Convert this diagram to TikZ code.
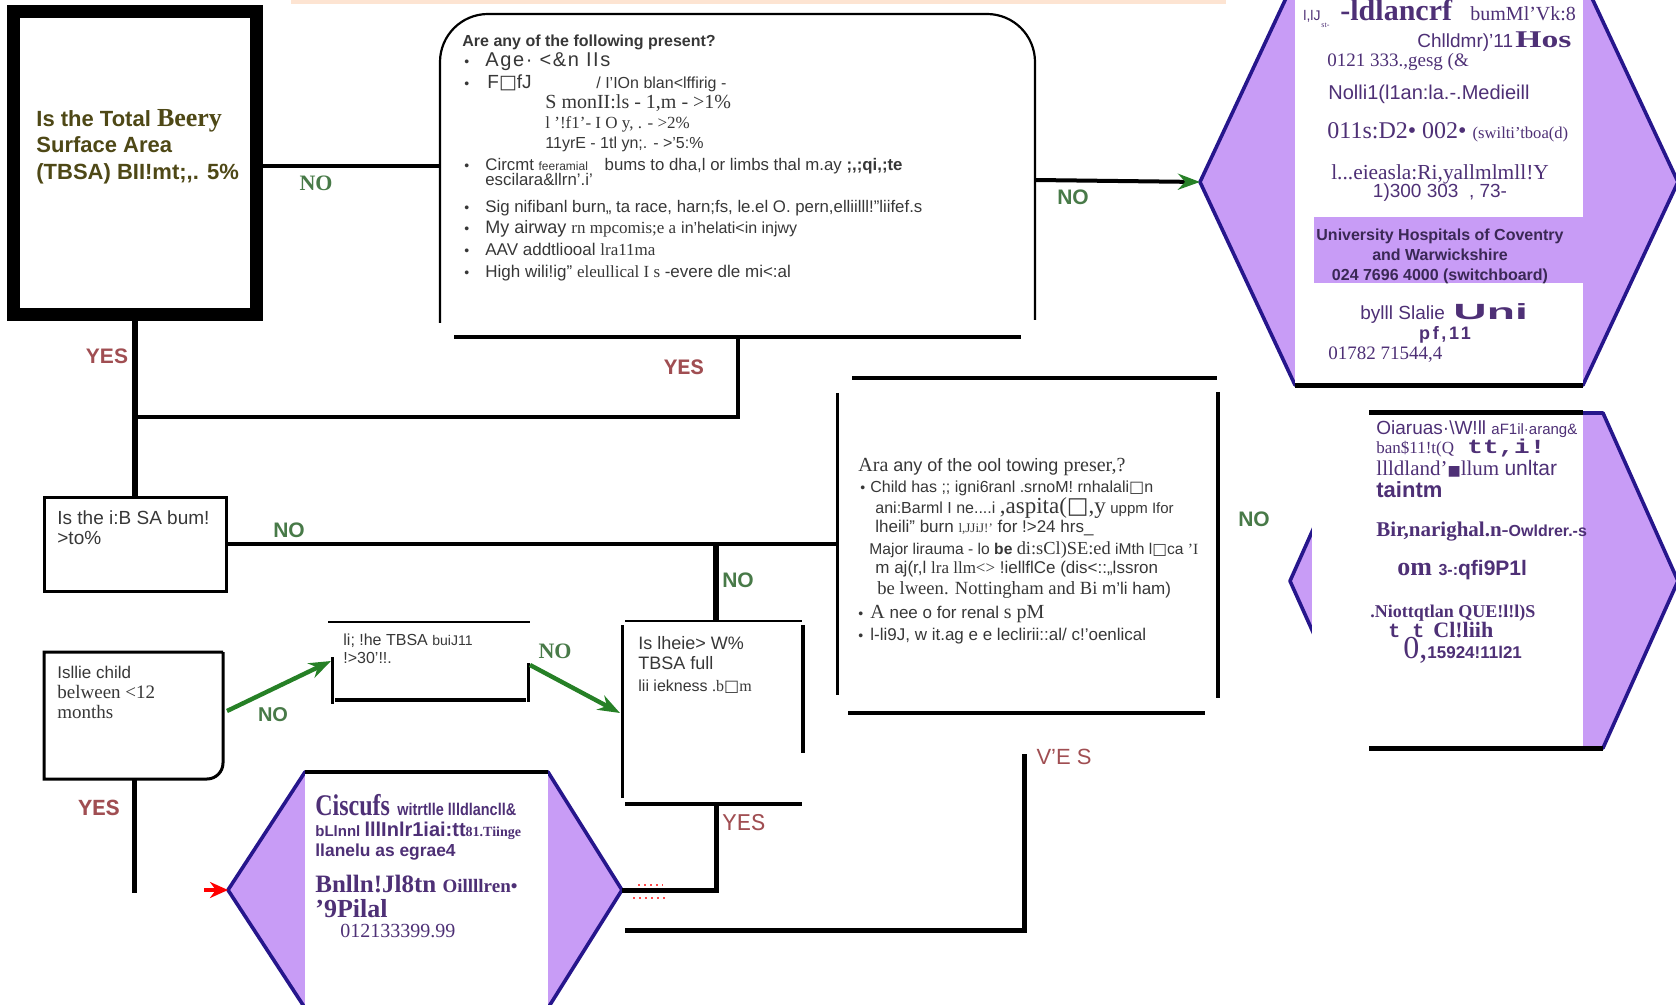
\documentclass[tikz,border=0pt]{standalone}
\usepackage{fontspec}
\setmainfont{Liberation Serif}
\setsansfont{Liberation Sans}
\setmonofont{Liberation Mono}
\newfontfamily\symfont{DejaVu Sans}
\usetikzlibrary{positioning,arrows.meta}

\definecolor{nogreen}{RGB}{72,122,72}
\definecolor{yesred}{RGB}{160,78,82}
\definecolor{hexfill}{RGB}{200,156,246}
\definecolor{hexedge}{RGB}{38,22,140}
\definecolor{purtext}{RGB}{78,48,118}
\definecolor{bandtext}{RGB}{58,40,85}
\definecolor{olivetext}{RGB}{78,72,22}
\definecolor{greytext}{RGB}{55,55,55}
\definecolor{arrgreen}{RGB}{38,128,38}
\definecolor{peach}{RGB}{253,228,210}

\newcommand{\fsz}[1]{\fontsize{#1}{#1}\selectfont}
\newcommand{\sq}{{\symfont\char"25A1}}

\begin{document}
\begin{tikzpicture}[
    x=0.5pt, y=-0.5pt,
    wire/.style={line width=2pt},
    thinwire/.style={line width=1pt},
    boxline/.style={line width=1.5pt},
    hexa/.style={fill=hexfill, draw=hexedge, line width=1.8pt, line join=round},
    garrow/.style={arrgreen, line width=2.2pt, -{Stealth[length=11pt,width=8pt]}},
    txt/.style={anchor=base west, inner sep=0pt, text=greytext},
    ptxt/.style={anchor=base west, inner sep=0pt, text=purtext},
    pmid/.style={anchor=base, inner sep=0pt, text=purtext},
    nolbl/.style={inner sep=0pt, text=nogreen, font=\sffamily\bfseries\fsz{10.5}},
    yeslbl/.style={inner sep=0pt, text=yesred},
]
\useasboundingbox (0,0) rectangle (1676,1005);
\clip (0,0) rectangle (1676,1005);

\fill[peach] (291,0) rectangle (1226,4);

% contact hexagons
\draw[hexa] (1200,182) coordinate (h1w) -- (1295,-21) -- (1583,-21) -- (1678,182)
  -- (1583,385) -- (1295,385) -- cycle;
\fill[white] (1295,-25) rectangle (1583,385);
\fill[hexfill] (1314,217) rectangle (1583,283);
\draw[line width=2.5pt] (1295,386) -- (1583,386);

\draw[hexa] (1290,581) -- (1365,413) -- (1603,413) -- (1678,581) -- (1603,748)
  -- (1365,748) -- cycle;
\fill[white] (1312,400) rectangle (1583,760);
\draw[line width=2.5pt] (1369,413) -- (1583,413);
\draw[line width=2.5pt] (1369,748) -- (1603,748);

\draw[hexa] (228,890) coordinate (h3w) -- (305,772) -- (548,772) -- (622,890) coordinate (h3e)
  -- (548,1008) -- (305,1008) -- cycle;
\fill[white] (305,772) rectangle (548,1012);
\draw[wire] (305,772) -- (548,772);

% question boxes
\draw[line width=6.5pt] (13,12) rectangle (256,315);
\draw[line width=1.1pt, rounded corners=24pt] (440,323) -- (440,14) -- (1035,14) -- (1035,320);
\draw[line width=1.6pt] (454,337) -- (1021,337);
\draw[boxline] (44,498) rectangle (226,591);
\draw[boxline] (223,652) -- (44,652) -- (44,779) {[rounded corners=8pt] -- (223,779) -- (223,652)};
\draw[thinwire] (328,622) -- (530,622);
\draw[boxline] (332,657) -- (332,704);
\draw[wire] (335,700) -- (526,700);
\draw[boxline] (528,663) -- (528,702);
\draw[thinwire] (625,621) -- (802,621);
\draw[boxline] (622,625) -- (622,798);
\draw[wire] (803,625) -- (803,753);
\draw[wire] (625,804) -- (802,804);
\draw[wire] (852,378) -- (1217,378);
\draw[boxline] (837,393) -- (837,695);
\draw[wire] (1218,392) -- (1218,698);
\draw[wire] (848,713) -- (1205,713);

% junctions
\coordinate (b1e) at (259,166);
\coordinate (b1s) at (135,318);
\coordinate (b2w) at (440,166);
\coordinate (b2e) at (1035,180);
\coordinate (b2s) at (738,337);
\coordinate (j1) at (738,417);
\coordinate (j0) at (135,417);
\coordinate (b3n) at (135,498);
\coordinate (b3e) at (226,544);
\coordinate (j2) at (716,544);
\coordinate (b7w) at (837,544);
\coordinate (b6n) at (716,621);
\coordinate (b4e) at (227,711);
\coordinate (b4s) at (134,779);
\coordinate (c1) at (134,893);
\coordinate (b5w) at (331,661);
\coordinate (b5e) at (530,665);
\coordinate (b6w) at (620,713);
\coordinate (b6s) at (716,804);
\coordinate (j3) at (716,890);
\coordinate (c2) at (625,930);
\coordinate (j4) at (1024,930);
\coordinate (c3) at (1024,754);
\coordinate (c4) at (204,890);

\draw[line width=3pt] (b1s) -- (b3n);
\draw[wire] (b1e) -- (b2w);
\draw[wire] (b2s) -- (j1) -- (j0);
\draw[wire] (b3e) -- (b7w);
\draw[line width=2.8pt] (j2) -- (b6n);
\draw[wire, -{Stealth[color=arrgreen,length=11pt,width=8pt]}] (b2e) -- (h1w);
\draw[garrow] (b4e) -- (b5w);
\draw[garrow] (b5e) -- (b6w);
\draw[line width=2.5pt] (b4s) -- (c1);
\draw[line width=2.5pt] (b6s) -- (j3) -- (h3e);
\draw[line width=2.5pt] (c2) -- (j4) -- (c3);
\draw[red, line width=2pt, -{Stealth[length=9pt,width=8pt]}] (c4) -- (h3w);
\draw[red!70, dotted, line width=1pt] (638,885) -- (663,885);
\draw[red!70, dotted, line width=1pt] (633,898) -- (668,898);

% labels
\node[nolbl, font=\rmfamily\bfseries\fsz{11}] (no1) at (316,183) {NO};
\node[yeslbl, font=\sffamily\bfseries\fsz{10.5}] (yes1) at (107,356) {YES};
\node[yeslbl, font=\ttfamily\bfseries\fsz{11}] (yes2) at (684,367) {YES};
\node[nolbl] (no2) at (1073,197) {NO};
\node[nolbl] (no3) at (289,530) {NO};
\node[nolbl] (no4) at (738,580) {NO};
\node[nolbl] (no5) at (1254,519) {NO};
\node[nolbl, font=\sffamily\bfseries\fsz{10}] (no6) at (273,715) {NO};
\node[nolbl, font=\rmfamily\bfseries\fsz{11}] (no7) at (555,651) {NO};
\node[yeslbl, font=\ttfamily\bfseries\fsz{11.5}] (yes3) at (99,808) {YES};
\node[yeslbl, font=\ttfamily\fsz{12}] (yes4) at (744,823) {YES};
\node[yeslbl, font=\sffamily\fsz{11}] (yes5) at (1064,757) {V'E S};

% box texts
\node[txt, text=olivetext, font=\sffamily\bfseries\fsz{11}] (q1a) at (36,127) {Is the Total {\rmfamily\fsz{13}Beery}};
\node[txt, text=olivetext, font=\sffamily\bfseries\fsz{11}] (q1b) at (36,153) {Surface Area};
\node[txt, text=olivetext, font=\sffamily\bfseries\fsz{11}] (q1c) at (36,180) {(TBSA) BII!mt;,. 5\%};

\node[txt, font=\sffamily\bfseries\fsz{8}] (q2) at (462,47) {Are any of the following present?};
\foreach \y in {67,89,171,213,234,256,278}
  \node[txt, font=\sffamily\fsz{7}] (bu\y) at (464,\y) {•};
\node[txt, font=\sffamily\fsz{10}\addfontfeature{LetterSpace=8}] (i1) at (485,67) {Age· <\&n IIs};
\node[txt, font=\sffamily\fsz{9.5}] (i2) at (487,89) {F\sq fJ};
\node[txt, font=\sffamily\fsz{8}] (i2b) at (596,89) {/ I'IOn blan<lffirig -};
\node[txt, font=\rmfamily\fsz{10}] (i2c) at (545,109) {S monII:ls - 1,m - >1\%};
\node[txt, font=\rmfamily\fsz{8.5}] (i2d) at (545,129) {l '!f1'- I O y, . - >2\%};
\node[txt, font=\sffamily\fsz{8}] (i2e) at (545,149) {11yrE - 1tl yn;. - >'5:\%};
\node[txt, font=\sffamily\fsz{8.4}] (i3) at (485,171) {Circmt {\fsz{6}feeramial}\quad bums to dha,l or limbs thal m.ay {\bfseries ;,;qi,;te}};
\node[txt, font=\sffamily\fsz{8.4}] (i3b) at (485,186) {escilara\&llrn'.i'};
\node[txt, font=\sffamily\fsz{8.4}] (i4) at (485,213) {Sig nifibanl burn,, ta race, harn;fs, le.el O. pern,elliilll!"liifef.s};
\node[txt, font=\sffamily\fsz{9}] (i5) at (485,234) {My airway {\rmfamily\fsz{8.5}rn mpcomis;e a} {\fsz{8}in'helati<in injwy}};
\node[txt, font=\sffamily\fsz{8.5}] (i6) at (485,256) {AAV addtliooal {\rmfamily lra11ma}};
\node[txt, font=\sffamily\fsz{8.5}] (i7) at (485,278) {High wili!ig" {\rmfamily eleullical I s} -evere dle mi<:al};

\node[txt, font=\sffamily\fsz{9}] (q7) at (858,472) {{\rmfamily\fsz{10}Ara} any of the ool towing {\rmfamily\fsz{10}preser,?}};
\node[txt, font=\sffamily\fsz{7}] (bu7a) at (860,493) {•};
\node[txt, font=\sffamily\fsz{7}] (bu7b) at (858,618) {•};
\node[txt, font=\sffamily\fsz{7}] (bu7c) at (858,640) {•};
\node[txt, font=\sffamily\fsz{8}] (k1) at (870,493) {Child has ;; igni6ranl .srnoM! rnhalali\sq n};
\node[txt, font=\sffamily\fsz{8}] (k1b) at (875,513) {ani:Barml I ne....i {\rmfamily\fsz{11.5},aspita(\sq,y} {\fsz{7.5}uppm Ifor}};
\node[txt, font=\sffamily\fsz{8.5}] (k1c) at (875,532) {lheili" burn {\rmfamily\fsz{6.5}l,JJiJ!'} for !>24 hrs\_};
\node[txt, font=\sffamily\fsz{7.8}] (k2) at (869,554) {Major lirauma - lo {\bfseries be} {\rmfamily\fsz{9.2}di:sCl)SE:ed} iMth l\sq ca {\rmfamily 'I}};
\node[txt, font=\sffamily\fsz{8.5}] (k2b) at (875,574) {m aj(r,l {\rmfamily lra llm<>} !iellflCe (dis<::,,lssron};
\node[txt, font=\rmfamily\fsz{9.3}] (k2c) at (877,594) {be lween. Nottingham and Bi {\sffamily\fsz{8.5}m'li ham)}};
\node[txt, font=\sffamily\fsz{8.5}] (k3) at (870,618) {{\rmfamily\fsz{10}A} nee o for renal {\rmfamily\fsz{10}s pM}};
\node[txt, font=\sffamily\fsz{8.5}] (k4) at (870,640) {l-li9J, w it.ag e e leclirii::al/ c!'oenlical};

\node[txt, font=\sffamily\fsz{9.5}] (q3a) at (57,524) {Is the i:B SA bum!};
\node[txt, font=\sffamily\fsz{9.5}] (q3b) at (57,545) {>to\%};
\node[txt, font=\sffamily\fsz{8.5}] (q4a) at (57,678) {Isllie child};
\node[txt, font=\rmfamily\fsz{9.5}] (q4b) at (57,698) {belween <12};
\node[txt, font=\rmfamily\fsz{9.5}] (q4c) at (57,718) {months};
\node[txt, font=\sffamily\fsz{8}] (q5a) at (343,645) {li; !he TBSA {\fsz{7}buiJ11}};
\node[txt, font=\sffamily\fsz{8}] (q5b) at (343,663) {!>30'!!.};
\node[txt, font=\sffamily\fsz{9}] (q6a) at (638,649) {Is lheie> W\%};
\node[txt, font=\sffamily\fsz{9}] (q6b) at (638,669) {TBSA full};
\node[txt, font=\sffamily\fsz{8}] (q6c) at (638,691) {lii iekness {\rmfamily .b\sq m}};

% hexagon texts
\node[ptxt, font=\sffamily\fsz{7}] (ra1) at (1303,21) {l,lJ};
\node[ptxt, font=\rmfamily\fsz{4}] (ra2) at (1321,28) {st-};
\node[ptxt, font=\rmfamily\bfseries\fsz{15}] (ra3) at (1340,21) {-ldlancrf};
\node[ptxt, font=\rmfamily\fsz{10}] (ra4) at (1470,21) {bumMl'Vk:8};
\node[ptxt, font=\sffamily\fsz{9.5}] (ra5) at (1417,48) {Chlldmr)'11};
\node[ptxt, font=\rmfamily\bfseries\fsz{12}\addfontfeature{FakeStretch=1.4}] (ra6) at (1515,48) {Hos};
\node[ptxt, font=\rmfamily\fsz{9.5}] (ra7) at (1327,67) {0121 333.,gesg (\&};
\node[ptxt, font=\sffamily\fsz{10}] (ra8) at (1328,100) {Nolli1(l1an:la.-.Medieill};
\node[ptxt, font=\rmfamily\fsz{12}] (ra9) at (1327,139) {011s:D2• 002• {\fsz{8.3}(swilti'tboa(d)}};
\node[pmid, font=\rmfamily\fsz{10.7}] (ra10) at (1440,180) {l...eieasla:Ri,yallmlmll!Y};
\node[pmid, font=\sffamily\fsz{9.5}] (ra11) at (1440,198) {1)300 303 \ , 73-};
\node[pmid, text=bandtext, font=\sffamily\bfseries\fsz{8}] (ra12) at (1440,241) {University Hospitals of Coventry};
\node[pmid, text=bandtext, font=\sffamily\bfseries\fsz{8}] (ra13) at (1440,261) {and Warwickshire};
\node[pmid, text=bandtext, font=\sffamily\bfseries\fsz{8}] (ra14) at (1440,281) {024 7696 4000 (switchboard)};
\node[ptxt, font=\sffamily\fsz{9.5}] (ra15) at (1360,320) {bylll Slalie};
\node[ptxt, font=\sffamily\bfseries\fsz{11}\addfontfeature{FakeStretch=2.1}] (ra16) at (1453,320) {Uni};
\node[pmid, font=\sffamily\bfseries\fsz{9}\addfontfeature{LetterSpace=15}] (ra17) at (1445,340) {pf,11};
\node[ptxt, font=\rmfamily\fsz{9.5}] (ra18) at (1328,360) {01782 71544,4};

\node[ptxt, font=\sffamily\fsz{9.5}] (rb1) at (1376,435) {Oiaruas·\textbackslash W!ll {\fsz{7.5}aF1il·arang\&}};
\node[ptxt, font=\rmfamily\fsz{8.5}] (rb2) at (1376,454) {ban\$11!t(Q};
\node[ptxt, font=\ttfamily\bfseries\fsz{10}\addfontfeature{FakeStretch=1.3}] (rb3) at (1467,454) {tt,i!};
\node[ptxt, font=\rmfamily\fsz{10.5}] (rb4) at (1376,476) {llldland'{\symfont\fsz{7}\char"25A0}llum {\sffamily unltar}};
\node[ptxt, font=\sffamily\bfseries\fsz{11}] (rb5) at (1376,497) {taintm};
\node[ptxt, font=\rmfamily\bfseries\fsz{10.5}] (rb6) at (1376,537) {Bir,narighal.n-{\sffamily\fsz{8}Owldrer.-s}};
\node[ptxt, font=\rmfamily\bfseries\fsz{13}] (rb7) at (1397,575) {om {\sffamily\fsz{8}3-:}{\sffamily\fsz{10.5}qfi9P1l}};
\node[ptxt, font=\rmfamily\bfseries\fsz{9}] (rb8) at (1370,617) {.Niottqtlan QUE!l!l)S};
\node[ptxt, font=\ttfamily\bfseries\fsz{10}] (rb9) at (1388,637) {t t};
\node[ptxt, font=\rmfamily\bfseries\fsz{11}] (rb10) at (1433,637) {Cl!liih};
\node[ptxt, font=\rmfamily\fsz{16}] (rb11) at (1403,658) {0,};
\node[ptxt, font=\sffamily\bfseries\fsz{8.5}] (rb12) at (1427,658) {15924!11l21};

\node[ptxt, font=\rmfamily\bfseries\fsz{15}\addfontfeature{FakeStretch=0.8}] (rc1) at (315,815) {Ciscufs};
\node[ptxt, font=\sffamily\bfseries\fsz{8.5}\addfontfeature{FakeStretch=0.85}] (rc2) at (397,815) {witrtlle llldlancll\&};
\node[ptxt, font=\sffamily\bfseries\fsz{7.5}] (rc3) at (315,836) {bLlnnl {\fsz{10}lllInlr1iai:tt}{\rmfamily\fsz{7}81.Tiinge}};
\node[ptxt, font=\sffamily\bfseries\fsz{8.7}] (rc4) at (315,856) {llanelu as egrae4};
\node[ptxt, font=\rmfamily\bfseries\fsz{12.5}] (rc5) at (315,892) {Bnlln!Jl8tn {\fsz{9.5}Oillllren•}};
\node[ptxt, font=\rmfamily\bfseries\fsz{13}] (rc6) at (315,917) {'9Pilal};
\node[ptxt, font=\rmfamily\fsz{10}] (rc7) at (340,937) {012133399.99};
\end{tikzpicture}
\end{document}
